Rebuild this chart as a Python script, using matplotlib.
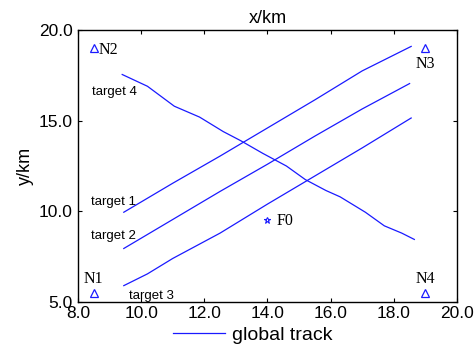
import matplotlib
matplotlib.use("Agg")
import matplotlib.pyplot as plt

# track data (km)
t1_x = [9.45, 11.0, 12.5, 14.0, 15.5, 17.0, 18.55]
t1_y = [9.95, 11.55, 13.05, 14.6, 16.15, 17.75, 19.1]
t2_x = [9.45, 11.0, 12.5, 14.0, 15.5, 17.0, 18.5]
t2_y = [7.95, 9.55, 11.1, 12.6, 14.15, 15.65, 17.05]
t3_x = [9.45, 10.2, 11.0, 12.5, 14.0, 15.5, 17.0, 18.55]
t3_y = [5.9, 6.55, 7.4, 8.8, 10.4, 11.95, 13.5, 15.15]
t4_x = [9.4, 10.2, 11.05, 11.85, 12.6, 13.15, 13.85, 14.6, 15.2, 15.85,
        16.3, 17.1, 17.7, 18.25, 18.65]
t4_y = [17.55, 16.9, 15.8, 15.2, 14.4, 13.9, 13.2, 12.5, 11.75, 11.15,
        10.8, 9.95, 9.2, 8.8, 8.45]

node_names = ["N1", "N2", "N3", "N4"]
node_x = [8.5, 8.5, 19.0, 19.0]
node_y = [5.5, 19.0, 19.0, 5.5]
f0_x, f0_y = 14.0, 9.5

target_names = ["target 1", "target 2", "target 3", "target 4"]
label_x = [8.4, 8.4, 9.6, 8.45]
label_y = [10.5, 8.65, 5.35, 16.6]

plt.rcParams['font.family'] = ['Liberation Sans', 'DejaVu Sans']

fig = plt.figure(figsize=(4.77, 3.54), dpi=100)
ax = fig.add_axes([0.1635, 0.147, 0.7945, 0.768])

blue = '#1a1aff'
line = None
for xs, ys in [(t1_x, t1_y), (t2_x, t2_y), (t3_x, t3_y), (t4_x, t4_y)]:
    line, = ax.plot(xs, ys, color=blue, lw=0.9)

ax.plot(node_x, node_y, '^', mfc='none', mec=blue, ms=6, mew=0.9)
ax.plot([f0_x], [f0_y], '*', mfc='none', mec=blue, ms=5, mew=0.8)

serif = ['Liberation Serif', 'DejaVu Serif']
fs_n = 11.5
ax.text(8.65, 18.9, "N2", family=serif, fontsize=fs_n, va='center', ha='left')
ax.text(8.5, 5.85, "N1", family=serif, fontsize=fs_n, va='bottom', ha='center')
ax.text(19.0, 18.55, "N3", family=serif, fontsize=fs_n, va='top', ha='center')
ax.text(19.0, 5.85, "N4", family=serif, fontsize=fs_n, va='bottom', ha='center')
ax.text(14.3, 9.45, "F0", family=serif, fontsize=fs_n, va='center', ha='left')

for name, lx, ly in zip(target_names, label_x, label_y):
    ax.text(lx, ly, name, fontsize=9.5, va='center', ha='left')

ax.set_xlim(8, 20)
ax.set_ylim(5, 20)
ax.set_xticks([8, 10, 12, 14, 16, 18, 20])
ax.set_yticks([5, 10, 15, 20])
ax.set_xticklabels([f"{v:.1f}" for v in [8, 10, 12, 14, 16, 18, 20]])
ax.set_yticklabels([f"{v:.1f}" for v in [5, 10, 15, 20]])
ax.tick_params(direction='in', top=True, right=True, length=3, width=0.8,
               labelsize=12.5)
ax.tick_params(axis='x', pad=3)
ax.tick_params(axis='y', pad=4)
for sp in ax.spines.values():
    sp.set_linewidth(1.0)

ax.set_title("x/km", fontsize=13, pad=5)
ax.set_ylabel("y/km", fontsize=13, labelpad=3)

fig.legend([line], ["global track"], loc='lower center',
           bbox_to_anchor=(0.53, -0.02), frameon=False, fontsize=14,
           handlelength=2.7, handletextpad=0.35)

fig.savefig("out.png", dpi=100)
